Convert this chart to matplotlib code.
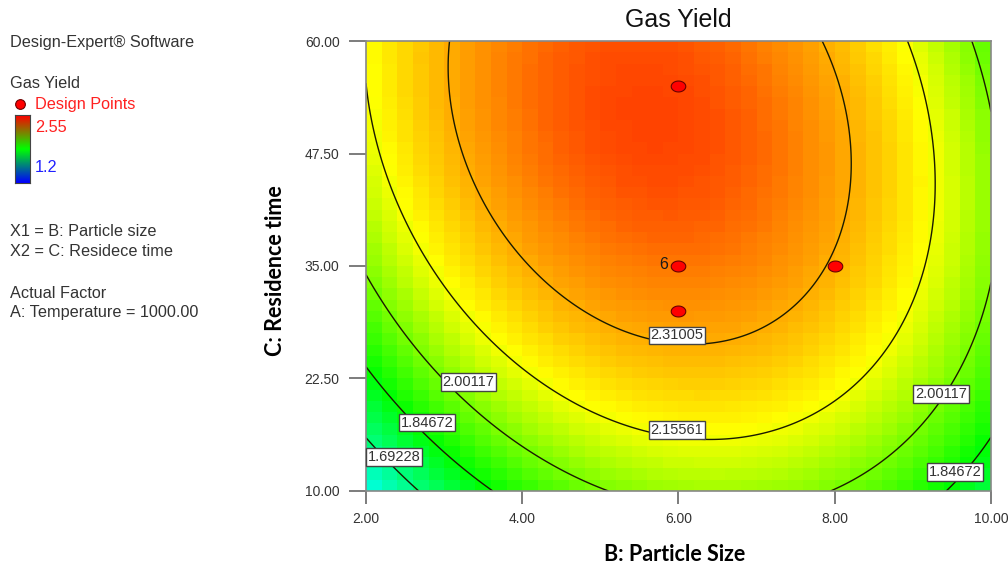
# Contour plot of gas yield vs particle size and residence time

import numpy as np
import matplotlib
matplotlib.use('Agg')
import matplotlib.pyplot as plt
from matplotlib.colors import LinearSegmentedColormap
from matplotlib.lines import Line2D
from matplotlib.path import Path

# fitted quadratic model in coded units (B and C run from -1 to 1)
# terms: intercept, B, C, BC, B^2, C^2
coef = [2.397, -0.002, 0.1984, -0.1033, -0.386, -0.1553]

# factor ranges (actual units)
b_range = [2.0, 10.0]
c_range = [10.0, 60.0]

# contour levels shown on the plot
levels = [1.69228, 1.84672, 2.00117, 2.15561, 2.31005]

# design points (particle size, residence time)
design_b = [6.0, 6.0, 8.0, 6.0]
design_c = [55.0, 35.0, 35.0, 30.0]
design_reps = [1, 6, 1, 1]

# colour scale limits
y_min, y_max = 1.2, 2.55

x_ticks = [2.0, 4.0, 6.0, 8.0, 10.0]
y_ticks = [10.0, 22.5, 35.0, 47.5, 60.0]

# where the level labels sit (particle size, residence time)
label_pos = [(5.98, 27.3, 2.31005), (5.98, 16.8, 2.15561),
             (3.31, 22.1, 2.00117), (2.78, 17.6, 1.84672),
             (2.36, 13.8, 1.69228), (9.36, 20.8, 2.00117),
             (9.54, 12.1, 1.84672)]


def model(b, c):
    # convert actual to coded units and evaluate the quadratic
    X = (b - 6.0) / 4.0
    Y = (c - 35.0) / 25.0
    a0, a1, a2, a12, a11, a22 = coef
    return a0 + a1*X + a2*Y + a12*X*Y + a11*X**2 + a22*Y**2


def main():
    plt.rcParams['font.family'] = ['Liberation Sans', 'DejaVu Sans']
    fig = plt.figure(figsize=(10.08, 5.68), dpi=100)
    ax = fig.add_axes([0.3631, 0.1356, 0.6200, 0.7922])

    # blue - cyan - green - yellow - orange - red scale
    de_cmap = LinearSegmentedColormap.from_list(
        'de', [(0.0, '#0000ff'), (0.25, '#00ffff'), (0.48, '#00ff00'),
               (0.72, '#ffff00'), (0.88, '#ff8000'), (1.0, '#ff0000')])

    # blocky surface, 40 x 40 cells
    be = np.linspace(b_range[0], b_range[1], 41)
    ce = np.linspace(c_range[0], c_range[1], 41)
    bc = (be[:-1] + be[1:]) / 2
    cc = (ce[:-1] + ce[1:]) / 2
    BB, CC = np.meshgrid(bc, cc)
    ax.pcolormesh(be, ce, model(BB, CC), cmap=de_cmap, vmin=y_min,
                  vmax=y_max, shading='flat', antialiased=False,
                  rasterized=True)

    # smooth contour lines
    bf = np.linspace(b_range[0], b_range[1], 300)
    cf = np.linspace(c_range[0], c_range[1], 300)
    BF, CF = np.meshgrid(bf, cf)
    ax.contour(BF, CF, model(BF, CF), levels=levels, colors='#1a1a00',
               linewidths=1.0)

    for lb, lc, lv in label_pos:
        ax.text(lb, lc, '%.5f' % lv, ha='center', va='center',
                fontsize=10.5, color='#333333', zorder=5,
                bbox=dict(boxstyle='square,pad=0.12', fc='white',
                          ec='#444444', lw=1.0))

    # design points drawn as small flat ellipses
    t = np.linspace(0, 2*np.pi, 40)
    ellipse = Path(np.column_stack([np.cos(t), 0.75*np.sin(t)]), closed=True)
    ax.scatter(design_b, design_c, s=110, c='#ff0000', edgecolors='#6a0000',
               linewidths=0.8, marker=ellipse, zorder=6, clip_on=False)
    for b, c, n in zip(design_b, design_c, design_reps):
        if n > 1:
            ax.text(b - 0.13, c + 0.2, str(n), ha='right', va='center',
                    fontsize=11.5, color='#1a1a1a', zorder=6)

    ax.set_xlim(b_range)
    ax.set_ylim(c_range)
    ax.set_xticks(x_ticks)
    ax.set_yticks(y_ticks)
    ax.set_xticklabels(['%.2f' % t for t in x_ticks])
    ax.set_yticklabels(['%.2f' % t for t in y_ticks])
    ax.tick_params(axis='x', direction='out', length=9, width=1.2,
                   color='#666666', labelsize=10, labelcolor='#333333', pad=6)
    ax.tick_params(axis='y', direction='out', length=12, width=1.2,
                   color='#666666', labelsize=10, labelcolor='#333333', pad=7)
    for s in ax.spines.values():
        s.set_color('#888888')
        s.set_linewidth(1.2)

    ax.set_title('Gas Yield', fontsize=18, color='#111111', pad=10)
    ax.set_xlabel('B: Particle Size', fontsize=15.5, fontweight='bold',
                  family=['Lato', 'DejaVu Sans'], va='center')
    ax.set_ylabel('C: Residence time', fontsize=15.5, fontweight='bold',
                  family=['Lato', 'DejaVu Sans'], va='center')
    ax.xaxis.set_label_coords(0.494, -0.142)
    ax.yaxis.set_label_coords(-0.1456, 0.489)

    # left side info panel
    fs = 11.7
    tc = '#333333'
    fig.text(10/1008, 1 - 43/568, 'Design-Expert® Software', fontsize=fs,
             color=tc, va='center')
    fig.text(10/1008, 1 - 83/568, 'Gas Yield', fontsize=fs, color=tc,
             va='center')
    fig.add_artist(Line2D([20/1008], [1 - 104/568], marker='o',
                          markersize=7, color='#ff0000',
                          markeredgecolor='#6a0000', markeredgewidth=0.8,
                          transform=fig.transFigure))
    fig.text(35/1008, 1 - 105/568, 'Design Points', fontsize=fs,
             color='#ff2020', va='center')
    fig.text(35/1008, 1 - 127/568, '2.55', fontsize=fs, color='#ff2020',
             va='center')
    fig.text(35/1008, 1 - 167/568, '1.2', fontsize=fs, color='#2020ff',
             va='center')

    cax = fig.add_axes([15/1008, 1 - 183/568, 15/1008, 68/568])
    bar_cmap = LinearSegmentedColormap.from_list(
        'bar', ['#0000ff', '#00ff00', '#ff0000'])
    cax.imshow(np.linspace(1, 0, 100).reshape(-1, 1), cmap=bar_cmap,
               aspect='auto', extent=[0, 1, 0, 1])
    cax.set_xticks([])
    cax.set_yticks([])
    for s in cax.spines.values():
        s.set_color('#444444')

    fig.text(10/1008, 1 - 231/568, 'X1 = B: Particle size', fontsize=fs,
             color=tc, va='center')
    fig.text(10/1008, 1 - 251/568, 'X2 = C: Residece time', fontsize=fs,
             color=tc, va='center')
    fig.text(10/1008, 1 - 293/568, 'Actual Factor', fontsize=fs, color=tc,
             va='center')
    fig.text(10/1008, 1 - 313/568, 'A: Temperature = 1000.00', fontsize=fs,
             color=tc, va='center')

    fig.savefig('out.png', dpi=100)


if __name__ == '__main__':
    main()
